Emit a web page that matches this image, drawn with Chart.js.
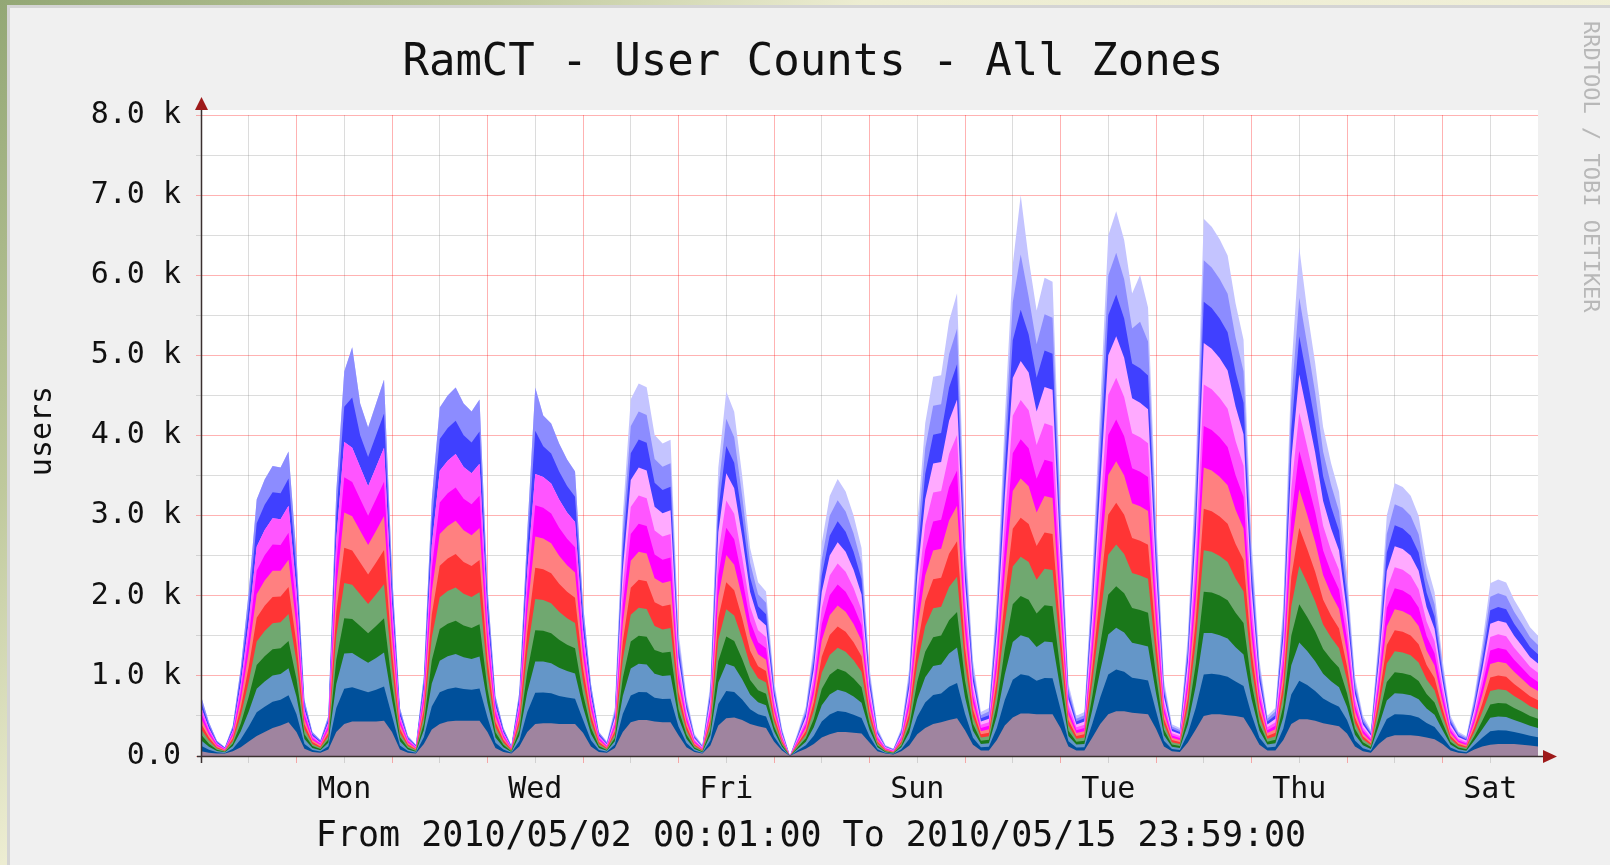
<!DOCTYPE html>
<html>
<head>
<meta charset="utf-8">
<title>RamCT - User Counts - All Zones</title>
<script src="https://cdn.jsdelivr.net/npm/chart.js@4.4.1/dist/chart.umd.min.js"></script>
<style>
  html, body { margin: 0; padding: 0; }
  body {
    width: 1610px; height: 865px; overflow: hidden; position: relative;
    background: linear-gradient(135deg, #93A775 0%, #BFC99D 20%, #EDEDD2 35%, #F4F2DE 100%);
  }
  #frame {
    position: absolute; left: 7px; top: 5px; right: 0; bottom: 0;
    background: #F0F0F0;
    border-left: 3px solid #D4D4D4;
    border-top: 3px solid #D4D4D4;
  }
  #chart1 { position: absolute; left: 0; top: 0; }
</style>
</head>
<body>
<div id="frame"></div>
<canvas id="chart1" width="1610" height="865"></canvas>
<script>
// Horas desde 2010/05/02 00:00, un punto cada 2 horas
const hours = [
  0, 2, 4, 6, 8, 10, 12, 14, 16, 18, 20, 22,
  24, 26, 28, 30, 32, 34, 36, 38, 40, 42, 44, 46,
  48, 50, 52, 54, 56, 58, 60, 62, 64, 66, 68, 70,
  72, 74, 76, 78, 80, 82, 84, 86, 88, 90, 92, 94,
  96, 98, 100, 102, 104, 106, 108, 110, 112, 114, 116, 118,
  120, 122, 124, 126, 128, 130, 132, 134, 136, 138, 140, 142,
  144, 146, 148, 150, 152, 154, 156, 158, 160, 162, 164, 166,
  168, 170, 172, 174, 176, 178, 180, 182, 184, 186, 188, 190,
  192, 194, 196, 198, 200, 202, 204, 206, 208, 210, 212, 214,
  216, 218, 220, 222, 224, 226, 228, 230, 232, 234, 236, 238,
  240, 242, 244, 246, 248, 250, 252, 254, 256, 258, 260, 262,
  264, 266, 268, 270, 272, 274, 276, 278, 280, 282, 284, 286,
  288, 290, 292, 294, 296, 298, 300, 302, 304, 306, 308, 310,
  312, 314, 316, 318, 320, 322, 324, 326, 328, 330, 332, 334,
  336,
];

const dayNames = ["Sun", "Mon", "Tue", "Wed", "Thu", "Fri", "Sat"];

// Marcas del eje X (cada 12 horas) y del eje Y (cada 500 usuarios)
const xTicks = [0, 12, 24, 36, 48, 60, 72, 84, 96, 108, 120, 132, 144, 156, 168,
  180, 192, 204, 216, 228, 240, 252, 264, 276, 288, 300, 312, 324, 336];
const yTicks = [0, 500, 1000, 1500, 2000, 2500, 3000, 3500, 4000, 4500, 5000,
  5500, 6000, 6500, 7000, 7500, 8000];

// Zona inferior (gris violáceo)
const zonePurple = [
  60, 40, 30, 30, 60, 110, 180, 250, 300, 350, 380, 420,
  300, 90, 50, 40, 80, 300, 400, 430, 430, 430, 430, 440,
  300, 80, 40, 30, 150, 330, 400, 430, 440, 440, 440, 440,
  300, 100, 50, 30, 120, 300, 400, 410, 410, 400, 400, 400,
  290, 120, 50, 40, 100, 300, 420, 450, 450, 430, 420, 420,
  260, 110, 50, 30, 130, 380, 470, 480, 450, 400, 370, 350,
  180, 70, 0, 50, 90, 150, 230, 270, 300, 300, 290, 280,
  170, 60, 30, 20, 60, 130, 270, 350, 400, 420, 450, 470,
  320, 140, 70, 70, 200, 380, 480, 530, 530, 520, 520, 520,
  350, 120, 70, 70, 230, 400, 520, 560, 560, 540, 530, 520,
  340, 120, 60, 50, 170, 330, 500, 520, 520, 510, 500, 480,
  320, 140, 70, 70, 200, 400, 460, 460, 440, 410, 390, 370,
  280, 120, 60, 40, 150, 230, 260, 260, 260, 250, 230, 210,
  150, 70, 40, 30, 80, 120, 140, 150, 150, 150, 140, 130,
  120,
];

// Zonas intermedias: tienen casi el mismo grosor en la gráfica
const zoneBase = [
  69, 38, 16, 8, 32, 99, 187, 295, 315, 327, 322, 338,
  220, 61, 25, 16, 42, 300, 440, 427, 397, 367, 397, 426,
  200, 52, 21, 11, 85, 287, 395, 407, 416, 396, 386, 401,
  180, 65, 30, 10, 68, 250, 390, 384, 374, 350, 330, 315,
  161, 78, 25, 12, 42, 225, 336, 350, 346, 298, 290, 294,
  108, 53, 19, 9, 64, 268, 340, 318, 254, 183, 150, 142,
  64, 23, 0, 21, 44, 104, 202, 248, 263, 250, 226, 193,
  78, 24, 9, 6, 24, 81, 219, 317, 361, 361, 415, 442,
  207, 88, 40, 44, 150, 318, 471, 489, 473, 420, 454, 450,
  238, 65, 36, 40, 173, 333, 498, 520, 490, 436, 431, 423,
  222, 69, 28, 25, 111, 273, 517, 507, 494, 478, 429, 393,
  198, 88, 36, 44, 142, 367, 478, 425, 372, 308, 272, 244,
  168, 73, 37, 24, 113, 231, 262, 258, 249, 229, 181, 153,
  88, 36, 22, 18, 56, 107, 168, 171, 168, 150, 137, 123,
  115,
];

// Rosa claro: aparece a partir del jueves 6
const zoneLightPink = [
  0, 0, 0, 0, 0, 0, 0, 0, 0, 0, 0, 0,
  0, 0, 0, 0, 0, 0, 0, 0, 0, 0, 0, 0,
  0, 0, 0, 0, 0, 0, 0, 0, 0, 0, 0, 0,
  0, 0, 0, 0, 0, 0, 0, 0, 0, 0, 0, 0,
  0, 0, 0, 12, 42, 225, 336, 350, 346, 298, 290, 294,
  108, 53, 19, 9, 64, 268, 340, 318, 254, 183, 150, 142,
  64, 23, 0, 21, 44, 104, 202, 248, 263, 250, 226, 193,
  78, 24, 9, 6, 24, 81, 219, 317, 361, 361, 415, 442,
  207, 88, 40, 44, 150, 318, 471, 489, 473, 420, 454, 450,
  238, 65, 36, 40, 173, 333, 498, 520, 490, 436, 431, 423,
  222, 69, 28, 25, 111, 273, 517, 507, 494, 478, 429, 393,
  198, 88, 36, 44, 142, 367, 478, 425, 372, 308, 272, 244,
  168, 73, 37, 24, 113, 231, 262, 258, 249, 229, 181, 153,
  88, 36, 22, 18, 56, 107, 168, 171, 168, 150, 137, 123,
  115,
];

const zoneBlue = [
  69, 38, 16, 8, 32, 99, 187, 295, 315, 327, 322, 338,
  220, 61, 25, 16, 42, 300, 440, 627, 397, 367, 397, 426,
  200, 52, 21, 11, 85, 287, 395, 407, 416, 396, 386, 401,
  180, 65, 30, 10, 68, 250, 540, 384, 374, 350, 330, 315,
  161, 78, 25, 12, 42, 225, 336, 350, 346, 298, 290, 294,
  108, 53, 19, 9, 64, 268, 340, 318, 254, 183, 150, 142,
  64, 23, 0, 21, 44, 104, 202, 248, 263, 250, 226, 193,
  78, 24, 9, 6, 24, 81, 219, 317, 361, 361, 415, 442,
  207, 88, 40, 44, 150, 318, 471, 639, 473, 420, 454, 450,
  238, 65, 36, 40, 173, 333, 498, 520, 490, 436, 431, 423,
  222, 69, 28, 25, 111, 273, 517, 507, 494, 478, 429, 393,
  198, 88, 36, 44, 142, 367, 478, 425, 372, 308, 272, 244,
  168, 73, 37, 24, 113, 231, 262, 258, 249, 229, 181, 153,
  88, 36, 22, 18, 56, 107, 168, 171, 168, 150, 137, 123,
  115,
];

const zonePeriwinkle = [
  69, 38, 16, 8, 32, 99, 187, 295, 315, 327, 322, 338,
  220, 61, 25, 16, 42, 300, 440, 627, 397, 367, 397, 426,
  200, 52, 21, 11, 85, 287, 395, 407, 416, 396, 386, 401,
  180, 65, 30, 10, 68, 250, 540, 384, 374, 350, 330, 315,
  161, 78, 25, 12, 42, 225, 336, 350, 346, 298, 290, 294,
  108, 53, 19, 9, 64, 268, 340, 318, 254, 183, 150, 142,
  64, 23, 0, 21, 44, 104, 202, 248, 263, 250, 226, 193,
  78, 24, 9, 6, 24, 81, 219, 317, 361, 361, 415, 442,
  207, 88, 40, 44, 150, 318, 471, 689, 473, 420, 454, 450,
  238, 65, 36, 40, 173, 333, 498, 520, 490, 436, 581, 423,
  222, 69, 28, 25, 111, 273, 517, 507, 494, 478, 429, 393,
  198, 88, 36, 44, 142, 367, 478, 425, 372, 308, 272, 244,
  168, 73, 37, 24, 113, 231, 262, 258, 249, 229, 181, 153,
  88, 36, 22, 18, 56, 107, 168, 171, 168, 150, 137, 123,
  115,
];

// Lavanda (zona superior): también empieza el jueves 6
const zoneLavender = [
  0, 0, 0, 0, 0, 0, 0, 0, 0, 0, 0, 0,
  0, 0, 0, 0, 0, 0, 0, 0, 0, 0, 0, 0,
  0, 0, 0, 0, 0, 0, 0, 0, 0, 0, 0, 0,
  0, 0, 0, 0, 0, 0, 0, 0, 0, 0, 0, 0,
  0, 0, 0, 12, 42, 225, 336, 350, 346, 298, 290, 294,
  108, 53, 19, 9, 64, 268, 340, 318, 254, 183, 150, 142,
  64, 23, 0, 21, 44, 104, 202, 248, 263, 250, 226, 193,
  78, 24, 9, 6, 24, 81, 219, 317, 361, 361, 415, 442,
  207, 88, 40, 44, 150, 318, 471, 739, 473, 420, 454, 450,
  238, 65, 36, 40, 173, 333, 498, 520, 490, 436, 581, 423,
  222, 69, 28, 25, 111, 273, 517, 507, 494, 478, 429, 393,
  198, 88, 36, 44, 142, 367, 628, 425, 372, 308, 272, 244,
  168, 73, 37, 24, 113, 231, 262, 258, 249, 229, 181, 153,
  88, 36, 22, 18, 56, 107, 168, 171, 168, 150, 137, 123,
  115,
];

// De abajo hacia arriba
const zoneColors = [
  "#9F849F", "#00509B", "#6496C8", "#1A781A", "#70A870", "#FF3535", "#FF8080",
  "#FF00FF", "#FF55FF", "#FFAAFF", "#4040FF", "#8C8CFF", "#C4C4FF",
];
const zoneData = [
  zonePurple, zoneBase, zoneBase, zoneBase, zoneBase, zoneBase, zoneBase,
  zoneBase, zoneBase, zoneLightPink, zoneBlue, zonePeriwinkle, zoneLavender,
];

const monoFont = "'DejaVu Sans Mono', monospace";
const majorGrid = "rgba(255, 0, 0, 0.3)";
const minorGrid = "rgba(140, 140, 140, 0.3)";

// Fondo blanco, ejes con flechas y textos al estilo RRDtool
const rrdDecor = {
  id: "rrdDecor",
  beforeDraw(chart) {
    const { ctx, chartArea: a } = chart;
    ctx.save();
    ctx.fillStyle = "#FFFFFF";
    ctx.fillRect(a.left, a.top - 5, a.right - a.left, a.bottom - a.top + 5);
    ctx.restore();
  },
  afterDraw(chart) {
    const { ctx, chartArea: a } = chart;
    ctx.save();

    ctx.strokeStyle = "#3A3030";
    ctx.lineWidth = 1.5;
    ctx.beginPath();
    ctx.moveTo(a.left - 4, a.bottom + 0.5);
    ctx.lineTo(a.right + 6, a.bottom + 0.5);
    ctx.moveTo(a.left + 0.5, a.bottom + 7);
    ctx.lineTo(a.left + 0.5, a.top - 6);
    ctx.stroke();

    ctx.fillStyle = "#9E1A1A";
    ctx.beginPath();
    ctx.moveTo(a.right + 19, a.bottom + 0.5);
    ctx.lineTo(a.right + 5, a.bottom - 6);
    ctx.lineTo(a.right + 5, a.bottom + 7);
    ctx.closePath();
    ctx.fill();
    ctx.beginPath();
    ctx.moveTo(a.left + 0.5, a.top - 18);
    ctx.lineTo(a.left - 6, a.top - 5);
    ctx.lineTo(a.left + 7, a.top - 5);
    ctx.closePath();
    ctx.fill();

    ctx.fillStyle = "#111111";
    ctx.textAlign = "center";
    ctx.textBaseline = "alphabetic";
    ctx.font = "44px " + monoFont;
    ctx.fillText("RamCT - User Counts - All Zones", 813, 75);
    ctx.font = "35px " + monoFont;
    ctx.fillText("From 2010/05/02 00:01:00 To 2010/05/15 23:59:00", 811, 846);

    ctx.save();
    ctx.translate(51, 431);
    ctx.rotate(-Math.PI / 2);
    ctx.font = "30px " + monoFont;
    ctx.fillText("users", 0, 0);
    ctx.restore();

    ctx.save();
    ctx.translate(1584, 21);
    ctx.rotate(Math.PI / 2);
    ctx.textAlign = "left";
    ctx.fillStyle = "#B8B8B8";
    ctx.font = "22px " + monoFont;
    ctx.fillText("RRDTOOL / TOBI OETIKER", 0, 0);
    ctx.restore();

    ctx.restore();
  },
};

var ctx1 = document.getElementById("chart1").getContext("2d");
var chart1 = new Chart(ctx1, {
  type: "line",
  data: {
    labels: hours,
    datasets: zoneData.map((values, i) => ({
      label: "Zone " + (i + 1),
      data: values,
      backgroundColor: zoneColors[i],
      borderColor: "rgba(0, 0, 0, 0)",
      borderWidth: 0,
      pointRadius: 0,
      pointHoverRadius: 0,
      fill: "origin", // cada zona se rellena hasta el cero, la de abajo queda encima
      tension: 0,
    })),
  },
  options: {
    responsive: false,
    animation: false,
    events: [],
    layout: { padding: { left: 0, top: 115, right: 72, bottom: 59 } },
    plugins: {
      legend: { display: false },
      tooltip: { enabled: false },
    },
    scales: {
      x: {
        type: "linear",
        min: 0,
        max: 336,
        z: 1, // rejilla por encima de las áreas, como RRDtool
        afterBuildTicks: (axis) => {
          axis.ticks = xTicks.map((v) => ({ value: v }));
        },
        afterFit: (axis) => {
          axis.height = 50;
        },
        border: { display: false },
        grid: {
          color: (c) => {
            if (!c.tick || c.tick.value === 336) return "rgba(0, 0, 0, 0)";
            return c.tick.value % 24 === 0 ? majorGrid : minorGrid;
          },
          lineWidth: 1,
          tickLength: 7,
        },
        ticks: {
          autoSkip: false,
          maxRotation: 0,
          padding: 9,
          color: "#111111",
          font: { family: monoFont, size: 30 },
          callback: (v) => ((v - 36) % 48 === 0 ? dayNames[Math.floor(v / 24) % 7] : ""),
        },
      },
      y: {
        stacked: true,
        min: 0,
        max: 8000,
        z: 1,
        afterBuildTicks: (axis) => {
          axis.ticks = yTicks.map((v) => ({ value: v }));
        },
        afterFit: (axis) => {
          axis.width = 201;
        },
        border: { display: false },
        grid: {
          color: (c) => (c.tick && c.tick.value % 1000 === 0 ? majorGrid : minorGrid),
          lineWidth: 1,
          tickLength: 5,
        },
        ticks: {
          padding: 15,
          color: "#111111",
          font: { family: monoFont, size: 30, lineHeight: 1 },
          callback: (v) => (v % 1000 === 0 ? (v === 0 ? "0.0" : (v / 1000).toFixed(1) + " k") : ""),
        },
      },
    },
  },
  plugins: [rrdDecor],
});
</script>
</body>
</html>
